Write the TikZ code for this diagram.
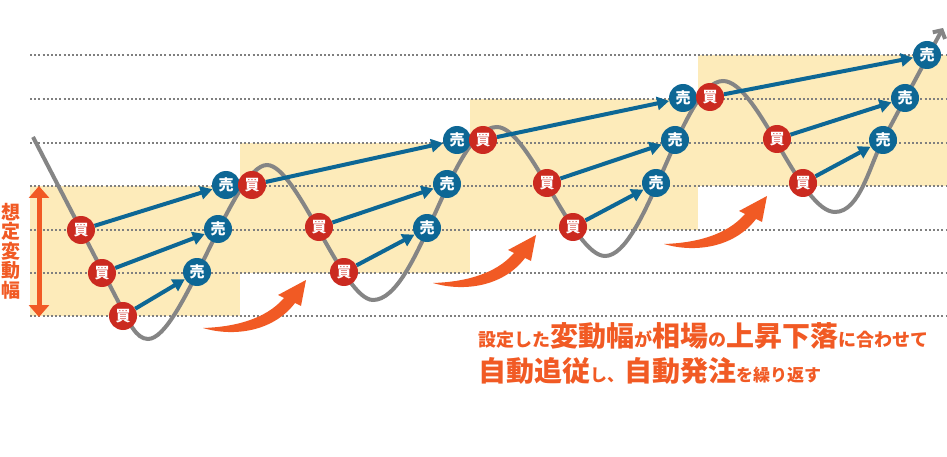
\documentclass[tikz,border=0pt]{standalone}
\usepackage{fontspec}
\newfontfamily\jp{Noto Sans CJK JP}
\usetikzlibrary{arrows.meta}
\definecolor{bandyellow}{HTML}{FDEBBA}
\definecolor{buyred}{HTML}{CB2A20}
\definecolor{sellblue}{HTML}{0D6795}
\definecolor{accent}{HTML}{F15A24}
\definecolor{curvegray}{HTML}{858585}
\definecolor{dotgray}{HTML}{7F7F7F}
\newcommand\bigjp[1]{{\fontsize{28}{28}\selectfont #1}}
\newcommand\swoosh[2]{\fill[accent,shift={(#1,#2)}] (0,0) .. controls (30,9) and (70,4) .. (92,-25) -- (98,-22) -- (103,-48) -- (75,-33) -- (81,-30) .. controls (62,-8) and (30,-1) .. (0,0);}

\begin{document}
\begin{tikzpicture}[x=1pt,y=-1pt]
\tikzset{kau/.style={circle,fill=buyred,text=white,minimum size=28pt,inner sep=0pt,font=\jp\bfseries\fontsize{15}{15}\selectfont},
  uri/.style={kau,fill=sellblue},
  trade/.style={draw=sellblue,line width=4pt,-{Triangle[length=12pt,width=13pt]}},
  band/.style={fill=bandyellow},
  level/.style={draw=dotgray,line width=1.8pt,dash pattern=on 2pt off 2.2pt},
  price/.style={draw=curvegray,line width=4pt}}
\useasboundingbox (0,0) rectangle (947,457);

% steps of the range
\fill[band] (30,186) rectangle (240,316);
\fill[band] (240,143) rectangle (470,273);
\fill[band] (470,99) rectangle (698,230);
\fill[band] (698,55) rectangle (947,186);
\foreach \y in {55,99,143,186,230,273,316}
  \draw[level] (30,\y) -- (947,\y);

% price
\coordinate (top) at (943,28);
\draw[price,-{Straight Barb[length=6pt,width=14pt]}] (33,137) -- (120,305)
  .. controls (129,322) and (136,339) .. (148,339)
  .. controls (182,339) and (233,165) .. (267,165)
  .. controls (297,165) and (343,300) .. (373,300)
  .. controls (419,300) and (451,127) .. (497,127)
  .. controls (529,127) and (573,256) .. (605,256)
  .. controls (646,256) and (682,81) .. (723,81)
  .. controls (758,81) and (800,212) .. (835,212)
  .. controls (860,212) and (870,164) .. (883,140) -- (top);

\swoosh{203}{328}
\swoosh{433}{283}
\swoosh{664}{244}

% sell
\path (226,185) node[uri] (s1) {売};
\path (218,229) node[uri] (s2) {売};
\path (197,272) node[uri] (s3) {売};
\path (457,140) node[uri] (s4) {売};
\path (447,184) node[uri] (s5) {売};
\path (427,228) node[uri] (s6) {売};
\path (683,98) node[uri] (s7) {売};
\path (675,140) node[uri] (s8) {売};
\path (656,183) node[uri] (s9) {売};
\path (927,55) node[uri] (s10) {売};
\path (905,98) node[uri] (s11) {売};
\path (883,140) node[uri] (s12) {売};
% buy
\path (81,230) node[kau] (b1) {買};
\path (102,273) node[kau] (b2) {買};
\path (123,316) node[kau] (b3) {買};
\path (252,185) node[kau] (b4) {買};
\path (319,227) node[kau] (b5) {買};
\path (344,272) node[kau] (b6) {買};
\path (483,140) node[kau] (b7) {買};
\path (547,183) node[kau] (b8) {買};
\path (573,227) node[kau] (b9) {買};
\path (710,97) node[kau] (b10) {買};
\path (777,139) node[kau] (b11) {買};
\path (803,183) node[kau] (b12) {買};

\foreach \i in {1,...,12}
  \draw[trade] (b\i) -- (s\i);

% range
\coordinate (hi) at (39,186);
\coordinate (lo) at (39,317);
\draw[accent,line width=5pt,{Triangle[length=12pt,width=20pt]}-{Triangle[length=12pt,width=20pt]}] (hi) -- (lo);
\node[text=accent,align=center,inner sep=0pt,font=\jp\bfseries\fontsize{19}{19.6}\selectfont] (range) at (11,251) {想\\定\\変\\動\\幅};

\node[anchor=base west,inner sep=0pt,text=accent,font=\jp\bfseries\fontsize{18}{18}\selectfont] (note1) at (478,346)
  {設定した\bigjp{変動幅}が\bigjp{相場}の\bigjp{上昇下落}に合わせて};
\node[anchor=base west,inner sep=0pt,text=accent,font=\jp\bfseries\fontsize{17}{17}\selectfont] (note2) at (478,381)
  {\bigjp{自動追従}し、\bigjp{自動発注}を繰り返す};
\end{tikzpicture}
\end{document}
